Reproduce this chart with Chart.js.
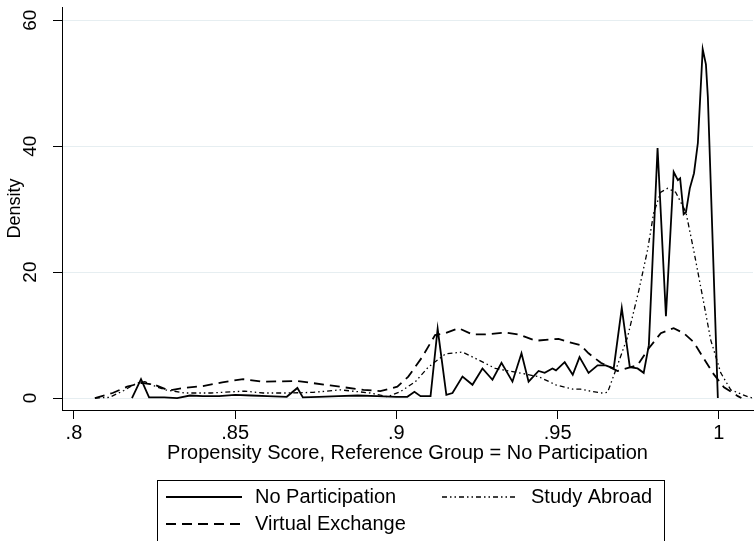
<!DOCTYPE html>
<html>
<head>
<meta charset="utf-8">
<script src="https://cdn.jsdelivr.net/npm/chart.js@4"></script>
<style>
  html, body { margin: 0; padding: 0; background: #fff; }
  #wrap { width: 755px; height: 541px; }
</style>
</head>
<body>
<div id="wrap"><canvas id="densityChart" width="755" height="541"></canvas></div>
<script>
// propensity score densities (kdensity)
const noPartX = [.818, .8208, .8233, .828, .832, .836, .84, .845, .85, .855, .86, .866, .8693, .871, .876, .882, .888, .894, .9, .9034, .9056, .9075, .9106, .9128, .9155, .9174, .9205, .9236, .9267, .9298, .9326, .936, .9388, .941, .9441, .946, .9484, .9495, .9522, .9547, .9568, .9596, .9624, .9649, .9674, .9699, .9724, .9748, .9767, .9783, .981, .9836, .986, .9873, .988, .9891, .9898, .991, .9923, .9935, .995, .996, .9966, .9997];
const noPartY = [0, 3.0, 0.1, 0.1, 0.0, 0.4, 0.3, 0.3, 0.5, 0.4, 0.3, 0.2, 1.6, 0.1, 0.2, 0.3, 0.4, 0.3, 0.2, 0.2, 1.0, 0.3, 0.3, 11.0, 0.5, 0.8, 3.4, 2.1, 4.7, 2.9, 5.6, 2.6, 7.1, 2.6, 4.3, 4.0, 4.7, 4.4, 5.7, 3.7, 6.5, 4.0, 5.2, 5.2, 4.7, 14.3, 4.9, 4.7, 4.0, 8.4, 39.7, 13.0, 35.9, 34.6, 34.9, 29.2, 29.5, 33.3, 35.7, 40.5, 55.4, 53.0, 47.8, 0];

const abroadX = [.8065, .811, .8155, .8195, .822, .8255, .8285, .8345, .8425, .853, .8587, .8662, .8742, .8826, .8919, .8972, .9012, .9059, .9099, .9152, .9205, .9245, .9307, .937, .9441, .9494, .9547, .9571, .9634, .9655, .968, .9717, .9752, .9779, .9798, .982, .9841, .9866, .9898, .9922, .995, .9975, 1.0006, 1.0037, 1.009, 1.0105];
const abroadY = [0, 0.1, 1.2, 2.4, 2.6, 1.8, 1.3, 0.8, 0.8, 1.1, 0.8, 0.8, 0.9, 1.3, 0.8, 0.2, 1.0, 2.6, 4.9, 7.0, 7.3, 6.3, 4.7, 4.1, 3.4, 2.1, 1.4, 1.4, 0.8, 0.9, 4.4, 9.7, 17.1, 23.5, 29.4, 32.7, 33.3, 32.7, 29.5, 23.5, 16.0, 9.2, 4.0, 1.3, 0.2, 0];

const virtualX = [.8065, .812, .8165, .821, .825, .8295, .834, .84, .846, .8525, .8587, .8693, .8795, .8898, .895, .9003, .9037, .908, .912, .9152, .9193, .9236, .9276, .9339, .9379, .9432, .9503, .9534, .9571, .9596, .9634, .9686, .9748, .9783, .982, .986, .9891, .9922, .9953, .9984, 1.0016, 1.0059, 1.007];
const virtualY = [0, 0.8, 1.8, 2.4, 2.1, 1.2, 1.6, 1.9, 2.5, 3.0, 2.6, 2.7, 2.0, 1.3, 1.1, 1.8, 3.4, 6.5, 10.0, 10.3, 11.1, 10.1, 10.1, 10.4, 10.1, 9.1, 9.4, 8.9, 8.4, 7.1, 5.6, 4.3, 5.2, 7.9, 10.3, 11.1, 10.3, 8.9, 6.3, 3.8, 1.7, 0.3, 0];

const seriesNames = ['No Participation', 'Study Abroad', 'Virtual Exchange'];
const xTicks = [.8, .85, .9, .95, 1];
const yTicks = [0, 20, 40, 60];

const FONT = '"Liberation Sans", Arial, Helvetica, sans-serif';

function pts(xs, ys) {
    return xs.map((x, i) => ({ x: x, y: ys[i] }));
}

// Stata-style boxed legend underneath, two columns
const boxLegend = {
    id: 'boxLegend',
    afterDraw(chart) {
        const ctx = chart.ctx;
        ctx.save();
        ctx.strokeStyle = '#000';
        ctx.lineWidth = 1;
        ctx.setLineDash([]);
        ctx.strokeRect(157.5, 480.5, 507, 80);
        const colX = [166, 442];
        const rowY = [497, 524];
        ctx.font = '20px ' + FONT;
        ctx.textBaseline = 'middle';
        ctx.fillStyle = '#000';
        chart.data.datasets.forEach((ds, i) => {
            const x = colX[i % 2];
            const y = rowY[Math.floor(i / 2)];
            ctx.beginPath();
            ctx.lineWidth = ds.borderWidth;
            ctx.setLineDash(ds.borderDash || []);
            ctx.moveTo(x, y);
            ctx.lineTo(x + 76, y);
            ctx.stroke();
            ctx.setLineDash([]);
            ctx.fillText(ds.label, x + 89, y);
        });
        ctx.restore();
    }
};

const ctx = document.getElementById('densityChart').getContext('2d');
const densityChart = new Chart(ctx, {
    type: 'line',
    data: {
        datasets: [
            {
                label: seriesNames[0],
                data: pts(noPartX, noPartY),
                borderColor: '#000',
                borderWidth: 1.8,
                borderDash: []
            },
            {
                label: seriesNames[1],
                data: pts(abroadX, abroadY),
                borderColor: '#000',
                borderWidth: 1.3,
                borderDash: [5, 3, 1.5, 3, 1.5, 3]
            },
            {
                label: seriesNames[2],
                data: pts(virtualX, virtualY),
                borderColor: '#000',
                borderWidth: 1.8,
                borderDash: [10, 6]
            }
        ]
    },
    options: {
        responsive: false,
        animation: false,
        events: [],
        elements: {
            point: { radius: 0 },
            line: { tension: 0 }
        },
        layout: {
            padding: { left: 0, right: 2, top: 7, bottom: 76 }
        },
        plugins: {
            legend: { display: false },
            tooltip: { enabled: false }
        },
        scales: {
            x: {
                type: 'linear',
                min: 0.7963,
                max: 1.0106,
                afterBuildTicks: (scale) => { scale.ticks = xTicks.map(v => ({ value: v })); },
                afterFit: (scale) => {
                    scale.height = 55;
                    scale.paddingLeft = 0;
                    scale.paddingRight = 0;
                },
                ticks: {
                    color: '#000',
                    font: { family: FONT, size: 20 },
                    padding: 2,
                    maxRotation: 0,
                    callback: (v) => String(v).replace(/^0\./, '.')
                },
                grid: { drawOnChartArea: false, tickColor: '#000', tickLength: 9 },
                border: { color: '#000', width: 1 },
                title: {
                    display: true,
                    text: 'Propensity Score, Reference Group = No Participation',
                    color: '#000',
                    font: { family: FONT, size: 20 },
                    padding: 0
                }
            },
            y: {
                min: -1.9,
                max: 62.1,
                afterBuildTicks: (scale) => { scale.ticks = yTicks.map(v => ({ value: v })); },
                afterFit: (scale) => {
                    scale.width = 62;
                    scale.paddingTop = 0;
                    scale.paddingBottom = 0;
                },
                ticks: {
                    color: '#000',
                    font: { family: FONT, size: 19 },
                    minRotation: 90,
                    maxRotation: 90,
                    crossAlign: 'center',
                    padding: 12
                },
                grid: { color: '#e6eef1', lineWidth: 1, tickColor: '#000', tickLength: 9 },
                border: { color: '#000', width: 1 },
                title: {
                    display: true,
                    text: 'Density',
                    color: '#000',
                    font: { family: FONT, size: 18 },
                    padding: { top: 4, bottom: 0 }
                }
            }
        }
    },
    plugins: [boxLegend]
});
</script>
</body>
</html>
